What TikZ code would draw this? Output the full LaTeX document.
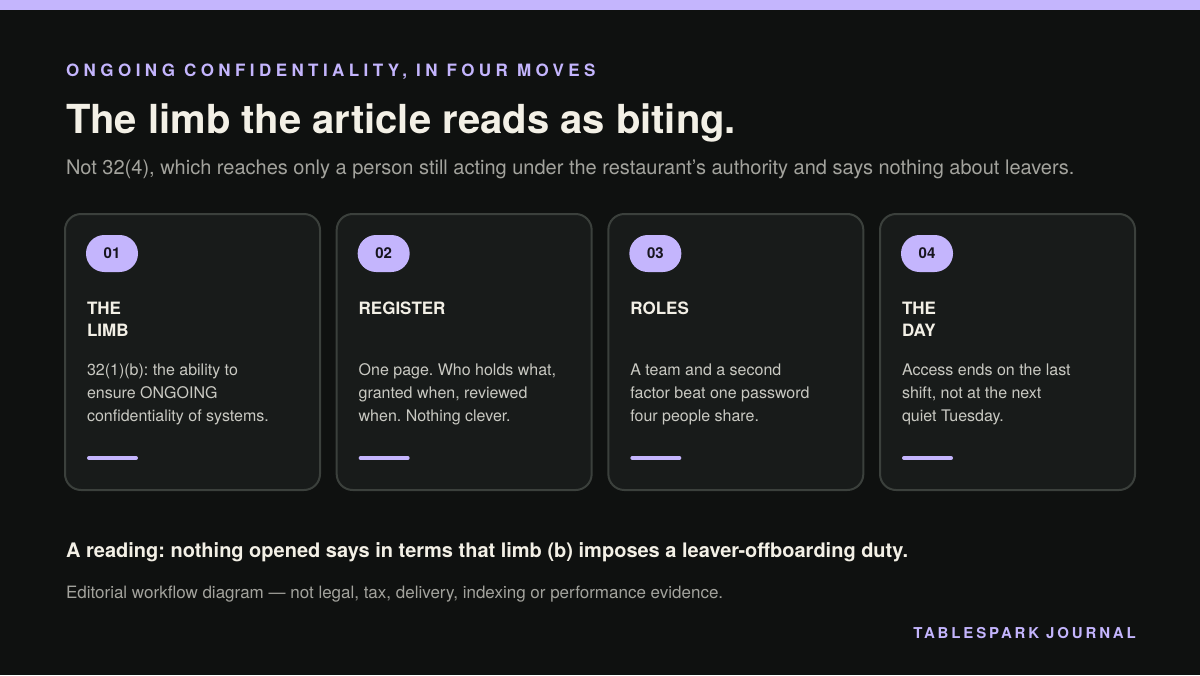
\documentclass[tikz,border=0pt]{standalone}
\usepackage{fontspec}
\setmainfont{TeX Gyre Heros}
\newfontfamily\spacedfont[LetterSpace=26]{TeX Gyre Heros}
\newfontfamily\brandfont[LetterSpace=19]{TeX Gyre Heros}
\frenchspacing

\definecolor{pagebg}{HTML}{0F1110}
\definecolor{cardbg}{HTML}{181B1A}
\definecolor{cardline}{HTML}{3B403C}
\definecolor{lavender}{HTML}{C4B5FD}
\definecolor{cream}{HTML}{F3F0E6}
\definecolor{subgray}{HTML}{A3A39D}
\definecolor{bodygray}{HTML}{C9C9C2}
\definecolor{pillink}{HTML}{17151F}

\tikzset{
  txt/.style={anchor=base west, inner sep=0pt, outer sep=0pt},
  eyebrow/.style={txt, text=lavender, font=\spacedfont\bfseries\fontsize{12.75}{15}\selectfont},
  headline/.style={txt, text=cream, font=\bfseries\fontsize{30}{36}\selectfont},
  subline/.style={txt, text=subgray, font=\fontsize{15}{18}\selectfont},
  card/.style={fill=cardbg, draw=cardline, line width=1.5pt, rounded corners=12pt},
  pill/.style={fill=lavender, text=pillink, rounded corners=13.8pt, minimum width=39pt,
    minimum height=27.75pt, inner sep=0pt, font=\bfseries\fontsize{11.25}{13}\selectfont},
  cardhead/.style={txt, align=left, text=cream, font=\bfseries\fontsize{12.75}{16.5}\selectfont},
  cardbody/.style={txt, align=left, text=bodygray, font=\fontsize{12}{17.25}\selectfont},
  bar/.style={draw=lavender, line width=3pt, line cap=round},
  verdict/.style={txt, text=cream, font=\bfseries\fontsize{15}{18}\selectfont},
  disclaimer/.style={txt, text=subgray, font=\fontsize{12.75}{15}\selectfont},
  brand/.style={anchor=base east, inner sep=0pt, text=lavender, font=\brandfont\bfseries\fontsize{11.25}{13}\selectfont}
}

\begin{document}
\begin{tikzpicture}[x=0.75pt,y=-0.75pt]

  % page and top band
  \fill[pagebg] (0,0) rectangle (1200,675);
  \fill[lavender] (0,0) rectangle (1200,10);

  % header
  \node[eyebrow] (eyebrow) at (66,76) {ONGOING CONFIDENTIALITY, IN FOUR MOVES};
  \node[headline] (title) at (66,133) {The limb the article reads as biting.};
  \node[subline] (subtitle) at (66,174) {Not 32(4), which reaches only a person still acting under the restaurant’s authority and says nothing about leavers.};

  % the four cards (multi-line nodes sit on their last baseline)
  \foreach \i/\num/\hy/\head/\body in {
      1/01/336/{THE\\LIMB}/{32(1)(b): the ability to\\ensure ONGOING\\confidentiality of systems.},
      2/02/314/{REGISTER}/{One page. Who holds what,\\granted when, reviewed\\when. Nothing clever.},
      3/03/314/{ROLES}/{A team and a second\\factor beat one password\\four people share.},
      4/04/336/{THE\\DAY}/{Access ends on the last\\shift, not at the next\\quiet Tuesday.}}
  {
    \pgfmathsetmacro{\cx}{65+(\i-1)*271.67}
    \draw[card] (\cx,214) rectangle ++(255,276);
    \node[pill] (pill\i) at (\cx+47,253.5) {\num};
    \node[cardhead] (head\i) at (\cx+22,\hy) {\head};
    \node[cardbody] (body\i) at (\cx+22,421) {\body};
    \draw[bar] (\cx+24,458) -- ++(47,0);
  }

  % footer
  \node[verdict] (verdict) at (66,557) {A reading: nothing opened says in terms that limb (b) imposes a leaver-offboarding duty.};
  \node[disclaimer] (disclaimer) at (66,598) {Editorial workflow diagram — not legal, tax, delivery, indexing or performance evidence.};
  \node[brand] (brand) at (1136,638) {TABLESPARK JOURNAL};

\end{tikzpicture}
\end{document}
